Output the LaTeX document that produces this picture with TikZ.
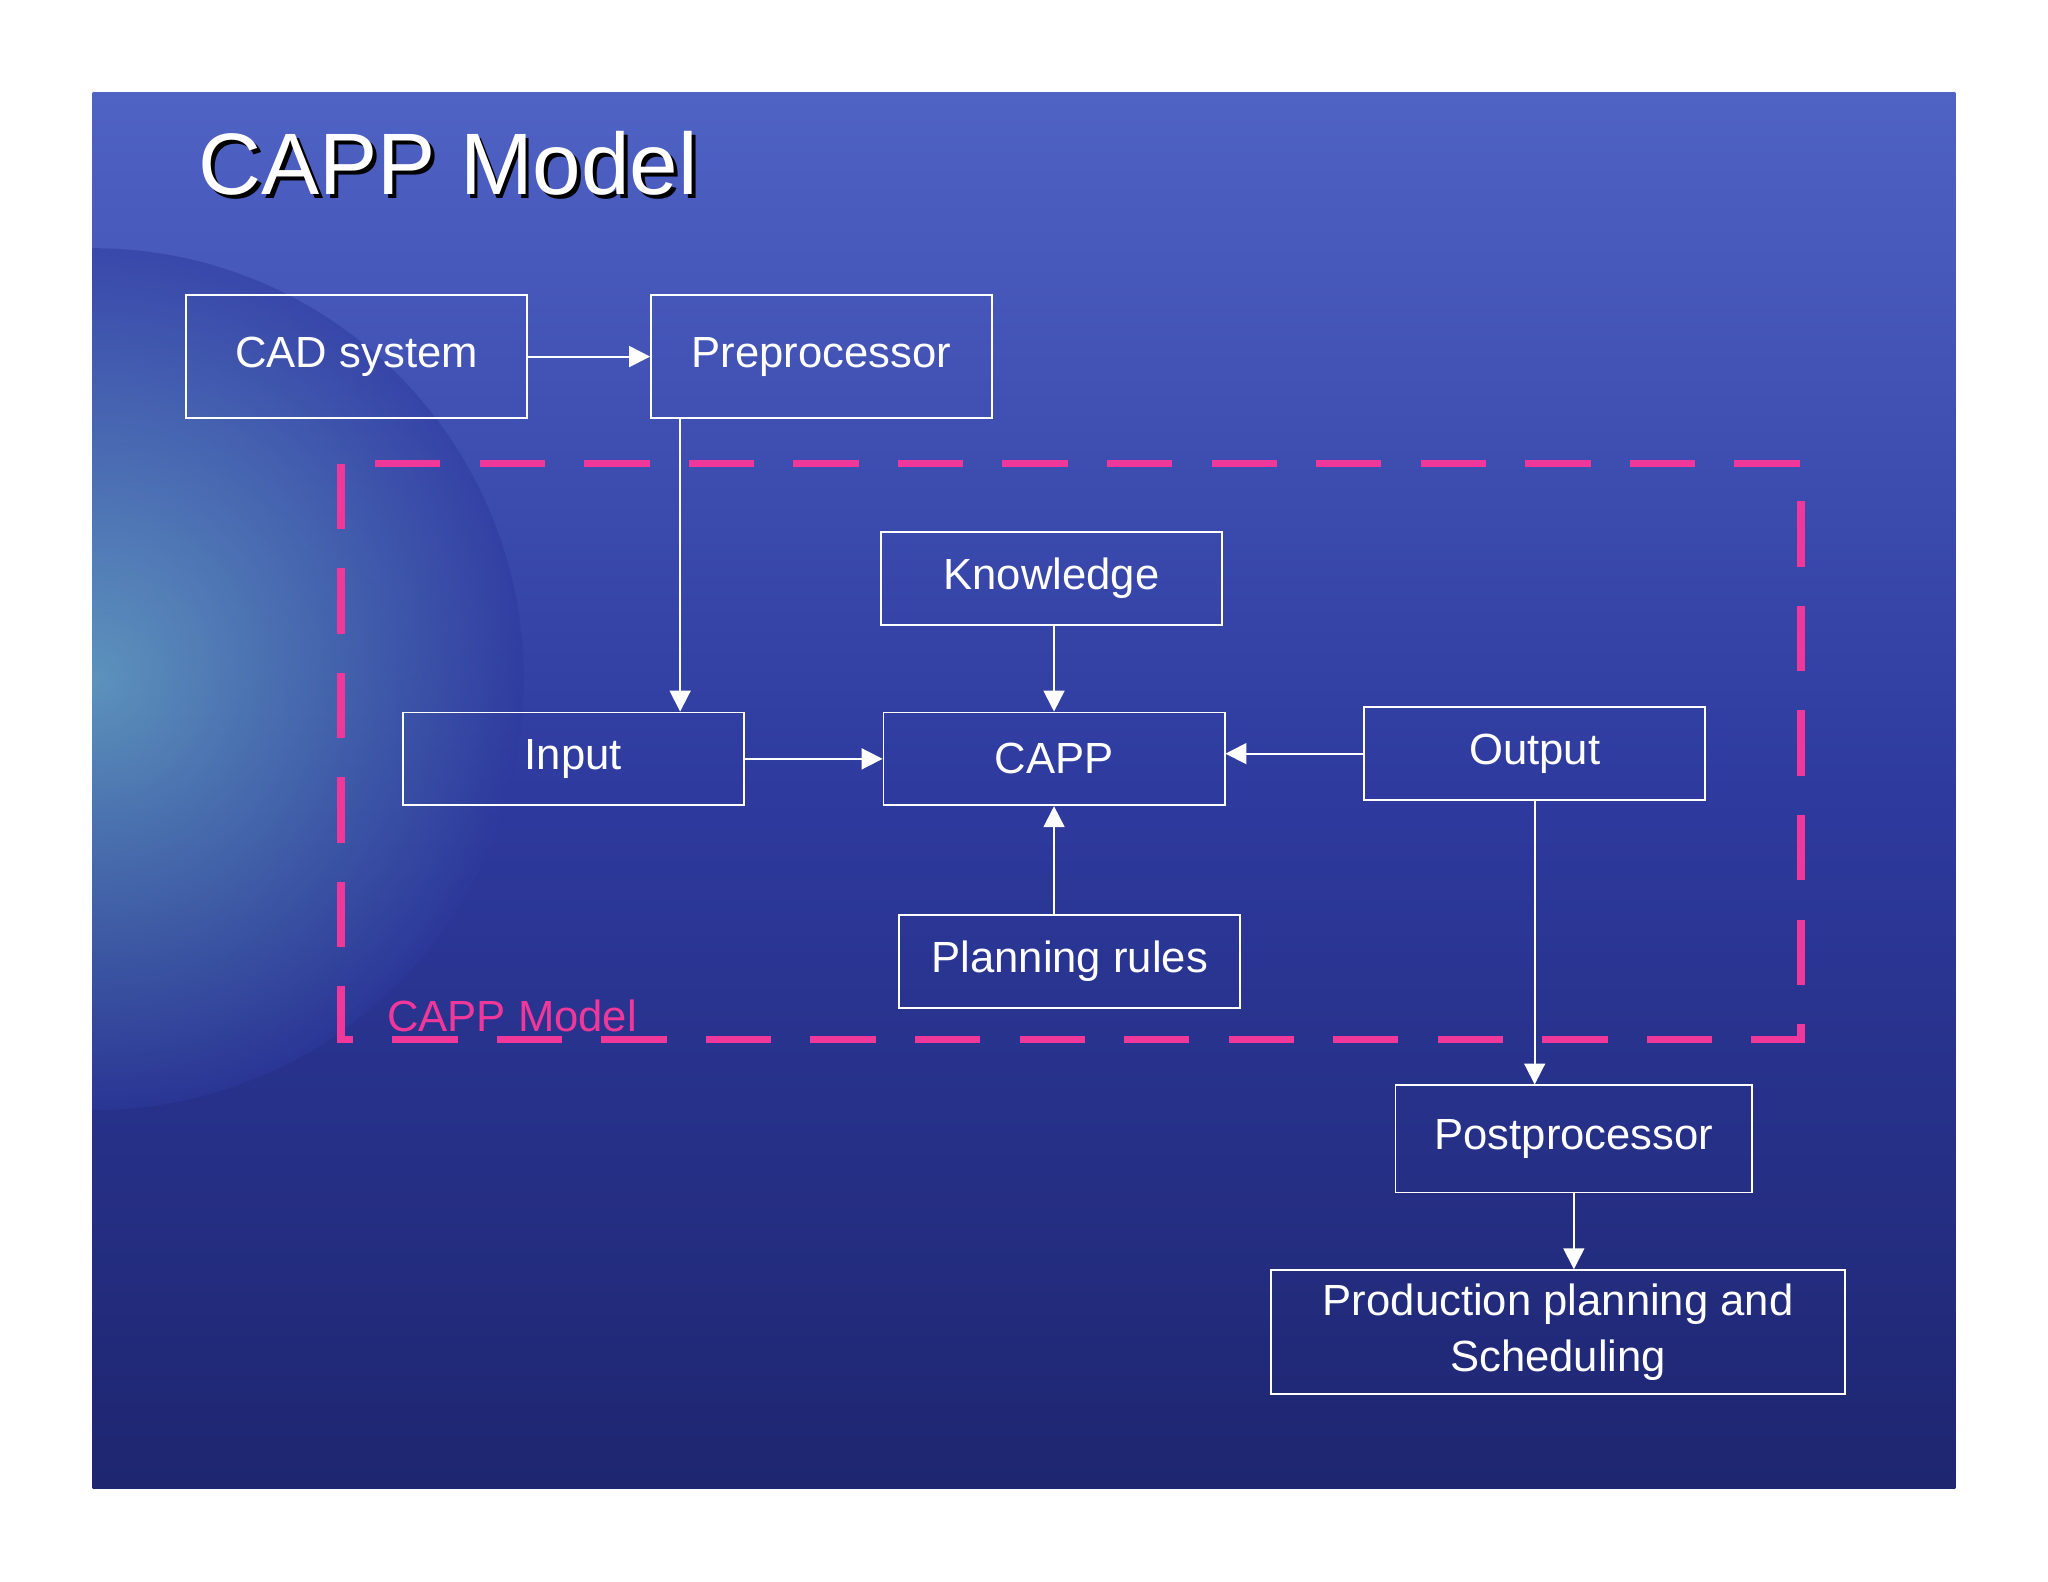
\documentclass[tikz,border=0pt]{standalone}
\usepackage{fontspec}
\setmainfont{Liberation Sans}
\usepackage{xcolor}
\definecolor{seaBlue}{HTML}{2E3A9E}
\definecolor{deepBlue}{HTML}{1E2670}
\definecolor{skyBlue}{HTML}{4F63C4}
\definecolor{glowCyan}{HTML}{7FD6D0}
\definecolor{capPink}{HTML}{F0379A}
\usepackage{tikz}
\usetikzlibrary{arrows.meta}
\tikzset{arrow/.style = {-{Triangle[length = 1.6mm, width = 1.6mm]}}}
\usetikzlibrary{positioning}

\begin{document}
\begin{tikzpicture}[x = 0.01cm, y = -0.01cm,
	block/.style = {rectangle, draw = white, thin, text = white, font = \fontsize{9.5}{12}\selectfont, minimum width = 2.61cm, minimum height = 0.71cm, align = center}]
	\useasboundingbox (0, 0) rectangle (1568, 1211);
	\fill[white] (0, 0) rectangle (1568, 1211);

	%% Background
	\shade[top color = skyBlue, bottom color = deepBlue, middle color = seaBlue] (71, 71) rectangle (1497, 1140);
	\begin{scope}
		\clip (71, 71) rectangle (1497, 1140);
		\shade[inner color = glowCyan, outer color = seaBlue, opacity = 0.55] (71, 520) circle (330);
	\end{scope}

	%% Title
	\node[text = black, font = \fontsize{19}{22}\selectfont] at (346, 128) {CAPP Model};
	\node[text = white, font = \fontsize{19}{22}\selectfont] (title) at (343, 125) {CAPP Model};

	%% Dashed frame
	\draw[capPink, line width = 1.6pt, dash pattern = on 5mm off 3mm] (261, 355) rectangle (1379, 796);
	\node[text = capPink, font = \fontsize{9.5}{12}\selectfont] (frame) at (392, 778) {CAPP Model};

	%% Blocks
	\node[block, minimum height = 0.94cm] (cad) at (273, 273) {CAD system};
	\node[block, minimum height = 0.94cm] (pre) at (629, 273) {Preprocessor};
	\node[block] (know) at (805, 443) {Knowledge};
	\node[block] (in) at (439, 581) {Input};
	\node[block] (capp) at (807, 581) {CAPP};
	\node[block] (out) at (1175, 577) {Output};
	\node[block] (rules) at (819, 736) {Planning rules};
	\node[block, minimum width = 2.73cm, minimum height = 0.82cm] (post) at (1205, 872) {Postprocessor};
	\node[block, minimum width = 4.39cm, minimum height = 0.95cm, inner sep = 1pt] (prod) at (1193, 1020) {Production planning and\\Scheduling};

	%% Arrows
	\draw[white, arrow] (cad) -- (pre);
	\draw[white, arrow] ([xshift = 0.23cm]pre.south west) -- ([xshift = 0.23cm]pre.south west |- in.north);
	\draw[white, arrow] (know.south -| capp.north) -- (capp.north);
	\draw[white, arrow] (in) -- (capp);
	\draw[white, arrow] (out.west) -- (out.west -| capp.east);
	\draw[white, arrow] (rules.north -| capp.south) -- (capp.south);
	\draw[white, arrow] (out.south) -- (out.south |- post.north);
	\draw[white, arrow] (post.south) -- (post.south |- prod.north);
\end{tikzpicture}
\end{document}
